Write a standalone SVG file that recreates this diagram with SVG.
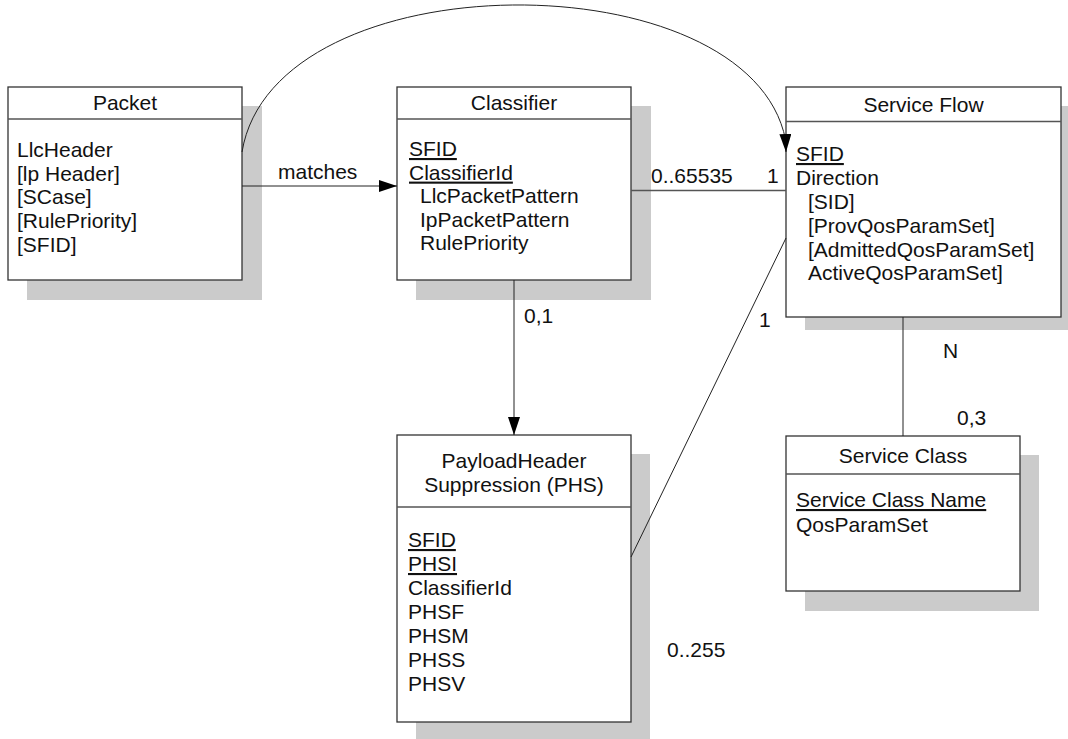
<svg xmlns="http://www.w3.org/2000/svg" width="1068" height="739" viewBox="0 0 1068 739">
<style>
text{font-family:"Liberation Sans",Arial,sans-serif;font-size:21px;fill:#111}
.t{text-anchor:middle}
.u{text-decoration:underline}
.sh{fill:#cbcbcb}
.bx{fill:#fff;stroke:#333;stroke-width:1.3}
.hd{stroke:#555;stroke-width:1.5}
.c{fill:none;stroke:#222;stroke-width:1}
.cg{fill:none;stroke:#555;stroke-width:1.5}
</style>
<defs>
<marker id="ah" viewBox="0 0 18 12" refX="18" refY="6" markerWidth="18" markerHeight="12" markerUnits="userSpaceOnUse" orient="auto">
<path d="M0,0 L18,6 L0,12 z" fill="#000"/>
</marker>
</defs>
<rect width="1068" height="739" fill="#fff"/>

<g id="packet">
<rect class="sh" x="27" y="106" width="235" height="194"/>
<rect class="bx" x="8" y="87" width="234" height="193"/>
<line class="hd" x1="8" y1="119" x2="242" y2="119"/>
<text class="t" x="125" y="110">Packet</text>
<text x="17" y="157">LlcHeader</text>
<text x="17" y="180.7">[lp Header]</text>
<text x="17" y="204.4">[SCase]</text>
<text x="17" y="228">[RulePriority]</text>
<text x="17" y="251.8">[SFID]</text>
</g>

<g id="classifier">
<rect class="sh" x="416" y="106" width="235" height="194"/>
<rect class="bx" x="397" y="87" width="234" height="193"/>
<line class="hd" x1="397" y1="119" x2="631" y2="119"/>
<text class="t" x="514" y="110">Classifier</text>
<text class="u" x="409" y="156">SFID</text>
<text class="u" x="409" y="179.6">ClassifierId</text>
<text x="420" y="203.2">LlcPacketPattern</text>
<text x="420" y="226.8">IpPacketPattern</text>
<text x="420" y="250.4">RulePriority</text>
</g>

<g id="serviceflow">
<rect class="sh" x="805" y="106" width="275" height="224"/>
<rect class="bx" x="786" y="87" width="275" height="230"/>
<line class="hd" x1="786" y1="121.5" x2="1061" y2="121.5"/>
<text class="t" x="923.5" y="112">Service Flow</text>
<text class="u" x="796" y="161">SFID</text>
<text x="796" y="185">Direction</text>
<text x="808" y="209">[SID]</text>
<text x="808" y="232.5">[ProvQosParamSet]</text>
<text x="808" y="256.5">[AdmittedQosParamSet]</text>
<text x="808" y="280">ActiveQosParamSet]</text>
</g>

<g id="phs">
<rect class="sh" x="416" y="454" width="234" height="290"/>
<rect class="bx" x="397" y="435" width="234" height="287"/>
<line class="hd" x1="397" y1="507" x2="631" y2="507"/>
<text class="t" x="514" y="468">PayloadHeader</text>
<text class="t" x="514" y="492">Suppression (PHS)</text>
<text class="u" x="408" y="547">SFID</text>
<text class="u" x="408" y="571">PHSI</text>
<text x="408" y="595">ClassifierId</text>
<text x="408" y="619">PHSF</text>
<text x="408" y="643">PHSM</text>
<text x="408" y="667">PHSS</text>
<text x="408" y="690.5">PHSV</text>
</g>

<g id="serviceclass">
<rect class="sh" x="805" y="455" width="234" height="156"/>
<rect class="bx" x="786" y="436" width="234" height="155"/>
<line class="hd" x1="786" y1="474" x2="1020" y2="474"/>
<text class="t" x="903" y="463">Service Class</text>
<text class="u" x="796" y="507">Service Class Name</text>
<text x="796" y="532">QosParamSet</text>
</g>

<g id="connectors">
<path class="c" d="M242,152 C274,-42 750,-42 785.6,140 L786,152" marker-end="url(#ah)"/>
<path class="c" d="M242,186 L397,186" marker-end="url(#ah)"/>
<path class="cg" d="M631,190.5 L786,190.5"/>
<path class="c" d="M514,280 L514,435" marker-end="url(#ah)"/>
<path class="c" d="M786,238 L631,557"/>
<path class="c" d="M903,317 L903,436"/>
<text x="278" y="179">matches</text>
<text x="651" y="183">0..65535</text>
<text x="767" y="183">1</text>
<text x="524" y="323">0,1</text>
<text x="759" y="327">1</text>
<text x="943" y="358">N</text>
<text x="957" y="425">0,3</text>
<text x="667" y="657">0..255</text>
</g>
</svg>
